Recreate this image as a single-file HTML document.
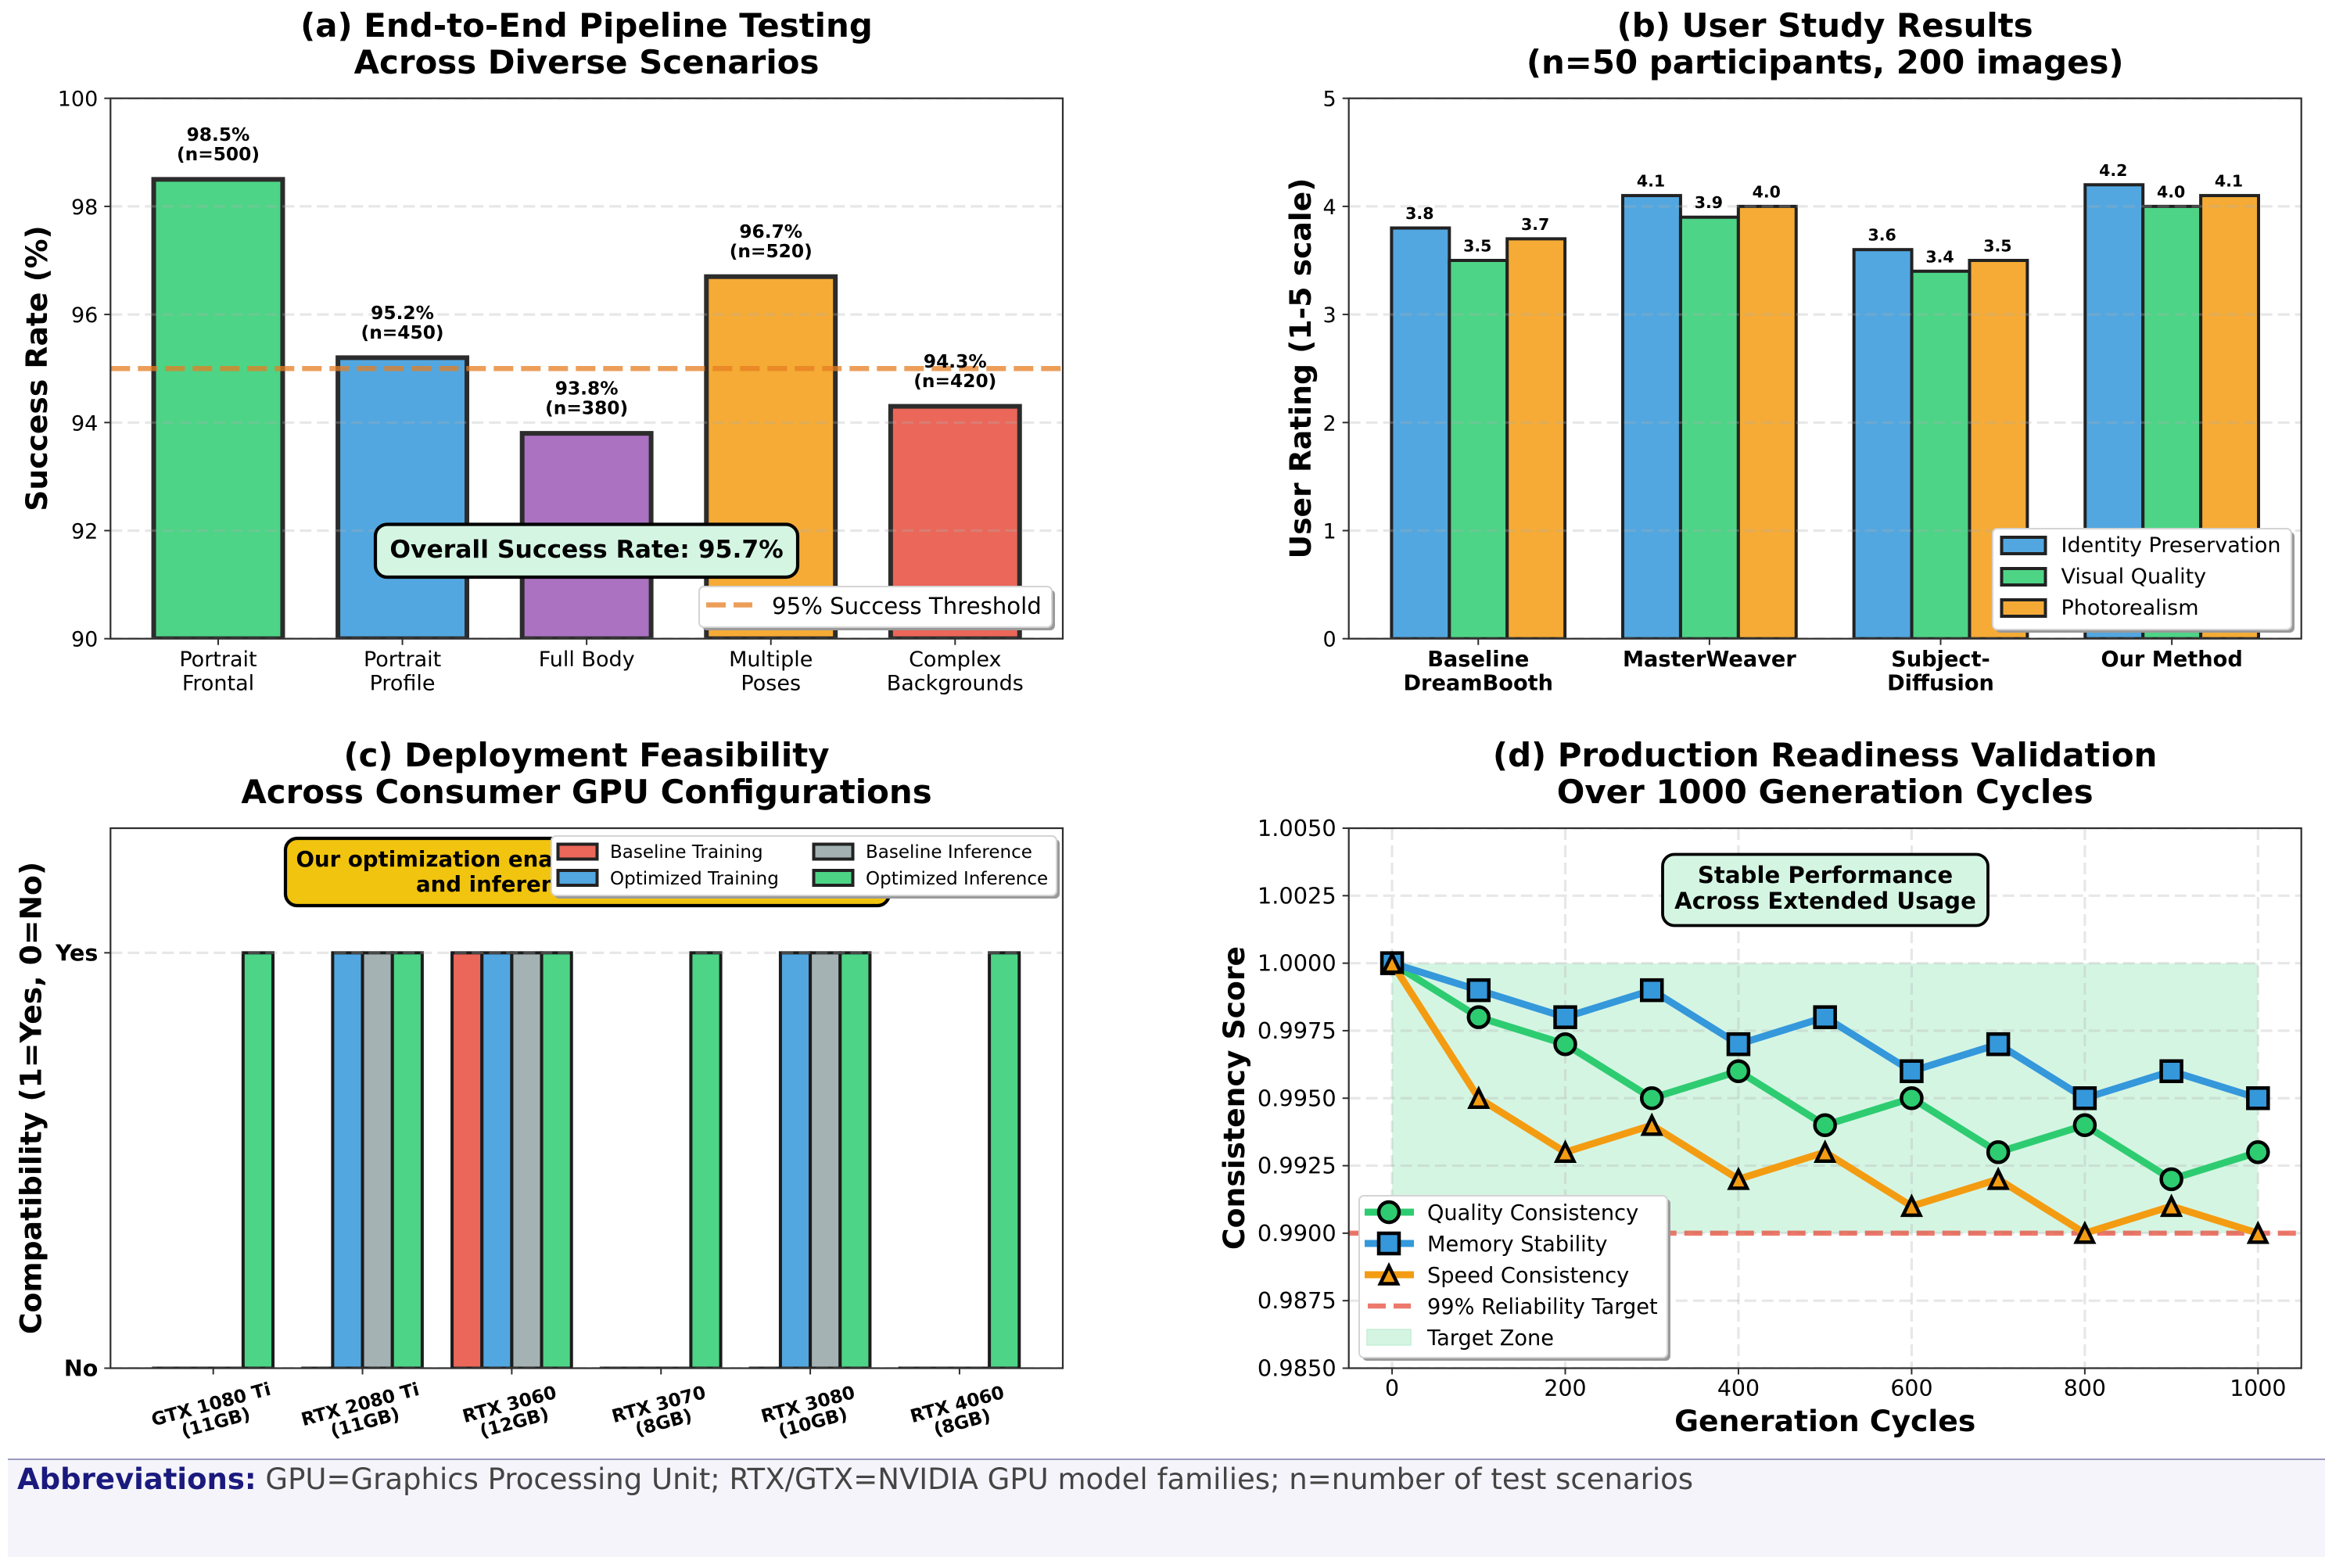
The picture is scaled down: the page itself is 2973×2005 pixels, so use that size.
<!DOCTYPE html>
<html lang="en">
<head>
<meta charset="utf-8">
<title>Pipeline validation figure</title>
<style>
html,body{margin:0;padding:0;background:#fff;width:2973px;height:2005px;overflow:hidden}
svg{display:block;font-family:"DejaVu Sans","Liberation Sans",sans-serif}
.title{font-size:41.9px;font-weight:700;fill:#000;text-anchor:middle}
.ylab{font-size:37.7px;font-weight:700;fill:#000;text-anchor:middle}
.leg{font-size:27px;fill:#000}
</style>
</head>
<body>
<svg id="figure" xmlns="http://www.w3.org/2000/svg" width="2973" height="2005" viewBox="0 0 2973 2005">
  <defs>
    <clipPath id="clip-a"><rect x="141.3" y="125.7" width="1217.7" height="691"/></clipPath>
    <clipPath id="clip-b"><rect x="1724.7" y="125.7" width="1218" height="691"/></clipPath>
    <clipPath id="clip-c"><rect x="141.3" y="1059" width="1217.7" height="690.5"/></clipPath>
    <clipPath id="clip-d"><rect x="1724.7" y="1059" width="1218" height="690.5"/></clipPath>
  </defs>
  <rect x="0" y="0" width="2973" height="2005" fill="#fff"/>

  <!-- Panel A -->
  <g id="panel-a">
    <text class="title" x="750" y="47">(a) End-to-End Pipeline Testing</text>
    <text class="title" x="750" y="94">Across Diverse Scenarios</text>
    <g id="a-bars" clip-path="url(#clip-a)"></g>
    <g id="a-grid" clip-path="url(#clip-a)"></g>
    <g id="a-line" clip-path="url(#clip-a)"></g>
    <rect x="141.3" y="125.7" width="1217.7" height="691" fill="none" stroke="#2e2e2e" stroke-width="2.2"/>
    <g id="a-axes"></g>
    <g id="a-values"></g>
    <text class="ylab" transform="translate(60,471) rotate(-90)">Success Rate (%)</text>
    <g>
      <rect x="480" y="670.5" width="540" height="67.5" rx="15" fill="#d5f5e3" stroke="#000" stroke-width="4.2"/>
      <text x="750" y="713" font-size="31.4" font-weight="700" text-anchor="middle" fill="#000">Overall Success Rate: 95.7%</text>
    </g>
    <g>
      <rect x="898" y="754" width="451" height="52" rx="6" fill="#9a9a9a"/>
      <rect x="894" y="750" width="451" height="52" rx="6" fill="#fff" stroke="#d4d4d4" stroke-width="2"/>
      <line x1="903" y1="773.5" x2="962" y2="773.5" stroke="#e67e22" stroke-opacity=".75" stroke-width="6.5" stroke-dasharray="25 10"/>
      <text x="987" y="785" font-size="29.2" fill="#000">95% Success Threshold</text>
    </g>
  </g>

  <!-- Panel B -->
  <g id="panel-b">
    <text class="title" x="2333.7" y="47">(b) User Study Results</text>
    <text class="title" x="2333.7" y="94">(n=50 participants, 200 images)</text>
    <g id="b-bars" clip-path="url(#clip-b)"></g>
    <g id="b-grid" clip-path="url(#clip-b)"></g>
    <rect x="1724.7" y="125.7" width="1218" height="691" fill="none" stroke="#2e2e2e" stroke-width="2.2"/>
    <g id="b-axes"></g>
    <g id="b-values"></g>
    <text class="ylab" transform="translate(1676,471) rotate(-90)">User Rating (1-5 scale)</text>
    <g>
      <rect x="2552" y="680" width="382" height="129" rx="6" fill="#9a9a9a"/>
      <rect x="2548" y="676" width="382" height="129" rx="6" fill="#fff" stroke="#d4d4d4" stroke-width="2"/>
      <rect x="2559.5" y="687" width="56" height="21" fill="#52a7e0" stroke="#222" stroke-width="4"/>
      <rect x="2559.5" y="727" width="56" height="21" fill="#4dd585" stroke="#222" stroke-width="4"/>
      <rect x="2559.5" y="767" width="56" height="21" fill="#f5aa36" stroke="#222" stroke-width="4"/>
      <text class="leg" x="2635.5" y="706">Identity Preservation</text>
      <text class="leg" x="2635.5" y="746">Visual Quality</text>
      <text class="leg" x="2635.5" y="786">Photorealism</text>
    </g>
  </g>

  <!-- Panel C -->
  <g id="panel-c">
    <text class="title" x="750" y="980">(c) Deployment Feasibility</text>
    <text class="title" x="750" y="1027">Across Consumer GPU Configurations</text>
    <g id="c-bars" clip-path="url(#clip-c)"></g>
    <g id="c-grid" clip-path="url(#clip-c)"></g>
    <rect x="141.3" y="1059" width="1217.7" height="690.5" fill="none" stroke="#2e2e2e" stroke-width="2.2"/>
    <g id="c-axes"></g>
    <text class="ylab" transform="translate(52.5,1404) rotate(-90)">Compatibility (1=Yes, 0=No)</text>
    <g>
      <rect x="365" y="1072" width="772" height="86" rx="15" fill="#f1c40f" stroke="#000" stroke-width="4.2"/>
      <text x="378.5" y="1108" font-size="27.6" font-weight="700" fill="#000">Our optimization enables</text>
      <text x="532" y="1140" font-size="27.6" font-weight="700" fill="#000">and inference</text>
    </g>
    <g>
      <rect x="709" y="1073" width="646" height="76" rx="6" fill="#9a9a9a"/>
      <rect x="705" y="1069" width="646" height="76" rx="6" fill="#fff" stroke="#d4d4d4" stroke-width="2"/>
      <rect x="713.5" y="1079.5" width="50" height="19" fill="#eb675a" stroke="#222" stroke-width="4"/>
      <rect x="713.5" y="1113" width="50" height="19" fill="#52a7e0" stroke="#222" stroke-width="4"/>
      <rect x="1040.5" y="1079.5" width="50" height="19" fill="#a3b1b2" stroke="#222" stroke-width="4"/>
      <rect x="1040.5" y="1113" width="50" height="19" fill="#4dd585" stroke="#222" stroke-width="4"/>
      <text x="780" y="1097" font-size="23" fill="#000">Baseline Training</text>
      <text x="780" y="1131" font-size="23" fill="#000">Optimized Training</text>
      <text x="1107" y="1097" font-size="23" fill="#000">Baseline Inference</text>
      <text x="1107" y="1131" font-size="23" fill="#000">Optimized Inference</text>
    </g>
  </g>

  <!-- Panel D -->
  <g id="panel-d">
    <text class="title" x="2333.7" y="980">(d) Production Readiness Validation</text>
    <text class="title" x="2333.7" y="1027">Over 1000 Generation Cycles</text>
    <g id="d-zone" clip-path="url(#clip-d)"></g>
    <g id="d-grid" clip-path="url(#clip-d)"></g>
    <g id="d-target" clip-path="url(#clip-d)"></g>
    <g id="d-series" clip-path="url(#clip-d)"></g>
    <rect x="1724.7" y="1059" width="1218" height="690.5" fill="none" stroke="#2e2e2e" stroke-width="2.2"/>
    <g id="d-axes"></g>
    <text class="ylab" transform="translate(1591,1404) rotate(-90)">Consistency Score</text>
    <text class="ylab" x="2333.7" y="1830">Generation Cycles</text>
    <g>
      <rect x="2126" y="1092.5" width="416" height="91" rx="15" fill="#d5f5e3" stroke="#000" stroke-width="3.8"/>
      <text x="2334" y="1129" font-size="29.2" font-weight="700" text-anchor="middle" fill="#000">Stable Performance</text>
      <text x="2334" y="1162" font-size="29.2" font-weight="700" text-anchor="middle" fill="#000">Across Extended Usage</text>
    </g>
    <g>
      <rect x="1742" y="1533" width="394" height="207" rx="6" fill="#9a9a9a"/>
      <rect x="1738" y="1529" width="394" height="207" rx="6" fill="#fff" stroke="#d4d4d4" stroke-width="2"/>
      <line x1="1745" y1="1550" x2="1808" y2="1550" stroke="#2ecc71" stroke-width="9"/>
      <circle cx="1776" cy="1550" r="13" fill="#2ecc71" stroke="#000" stroke-width="4.5"/>
      <line x1="1745" y1="1590" x2="1808" y2="1590" stroke="#3498db" stroke-width="9"/>
      <rect x="1763" y="1577" width="26" height="26" fill="#3498db" stroke="#000" stroke-width="4.5"/>
      <line x1="1745" y1="1630" x2="1808" y2="1630" stroke="#f39c12" stroke-width="9"/>
      <polygon points="1776,1619 1765,1641.5 1787,1641.5" fill="#f39c12" stroke="#000" stroke-width="4.5"/>
      <line x1="1749" y1="1670" x2="1804" y2="1670" stroke="#e74c3c" stroke-opacity=".75" stroke-width="6.5" stroke-dasharray="23 10"/>
      <rect x="1748" y="1700" width="56" height="20" fill="#d5f5e3" stroke="#c4eed6" stroke-width="1.5"/>
      <text x="1825" y="1560" font-size="27.2" fill="#000">Quality Consistency</text>
      <text x="1825" y="1600" font-size="27.2" fill="#000">Memory Stability</text>
      <text x="1825" y="1640" font-size="27.2" fill="#000">Speed Consistency</text>
      <text x="1825" y="1680" font-size="27.2" fill="#000">99% Reliability Target</text>
      <text x="1825" y="1720" font-size="27.2" fill="#000">Target Zone</text>
    </g>
  </g>

  <!-- Footer -->
  <g>
    <rect x="10" y="1866" width="2963" height="125" fill="#f4f4fa"/>
    <rect x="10" y="1865" width="2963" height="2" fill="#9a9abf"/>
    <text x="22" y="1904" font-size="37" fill="#444"><tspan font-weight="700" fill="#1a1a7e">Abbreviations:</tspan> GPU=Graphics Processing Unit; RTX/GTX=NVIDIA GPU model families; n=number of test scenarios</text>
  </g>
</svg>

<script>
// ---------- Panel A data ----------
const scenarioNames = [["Portrait","Frontal"],["Portrait","Profile"],["Full Body"],["Multiple","Poses"],["Complex","Backgrounds"]];
const successRates = [98.5, 95.2, 93.8, 96.7, 94.3];
const sampleCounts = [500, 450, 380, 520, 420];
const successColors = ["#2ecc71","#3498db","#9b59b6","#f39c12","#e74c3c"];
const successTicks = [90, 92, 94, 96, 98, 100];
const successThreshold = [95];

// ---------- Panel B data ----------
const methodNames = [["Baseline","DreamBooth"],["MasterWeaver"],["Subject-","Diffusion"],["Our Method"]];
const identityRatings = [3.8, 4.1, 3.6, 4.2];
const visualRatings = [3.5, 3.9, 3.4, 4.0];
const photoRatings = [3.7, 4.0, 3.5, 4.1];
const ratingTicks = [0, 1, 2, 3, 4, 5];

// ---------- Panel C data ----------
const gpuNames = [["GTX 1080 Ti","(11GB)"],["RTX 2080 Ti","(11GB)"],["RTX 3060","(12GB)"],["RTX 3070","(8GB)"],["RTX 3080","(10GB)"],["RTX 4060","(8GB)"]];
const baselineTraining = [0, 0, 1, 0, 0, 0];
const optimizedTraining = [0, 1, 1, 0, 1, 0];
const baselineInference = [0, 1, 1, 0, 1, 0];
const optimizedInference = [1, 1, 1, 1, 1, 1];
const compatTicks = [0, 1];
const compatTickNames = ["No", "Yes"];

// ---------- Panel D data ----------
const cycles = [0, 100, 200, 300, 400, 500, 600, 700, 800, 900, 1000];
const qualityScores = [1.0, 0.998, 0.997, 0.995, 0.996, 0.994, 0.995, 0.993, 0.994, 0.992, 0.993];
const memoryScores = [1.0, 0.999, 0.998, 0.999, 0.997, 0.998, 0.996, 0.997, 0.995, 0.996, 0.995];
const speedScores = [1.0, 0.995, 0.993, 0.994, 0.992, 0.993, 0.991, 0.992, 0.990, 0.991, 0.990];
const cycleTicks = [0, 200, 400, 600, 800, 1000];
const scoreTicks = [0.985, 0.9875, 0.99, 0.9925, 0.995, 0.9975, 1.0, 1.0025, 1.005];
const reliabilityTarget = [0.99];
const targetZoneTop = [1.0];

// ---------- helpers ----------
const NS = "http://www.w3.org/2000/svg";
function mk(tag, parentId, props) {
  const node = document.createElementNS(NS, tag);
  for (const k in props) node.setAttribute(k, props[k]);
  document.getElementById(parentId).appendChild(node);
  return node;
}
function scale(d0, d1, r0, r1) {
  return function (v) { return r0 + (v - d0) * (r1 - r0) / (d1 - d0); };
}
const LEFT_A = 141.3, RIGHT_A = 1359, TOP_R1 = 125.7, BOT_R1 = 816.7;
const LEFT_B = 1724.7, RIGHT_B = 2942.7, TOP_R2 = 1059, BOT_R2 = 1749.5;

const xA = scale(-0.5845, 4.5845, LEFT_A, RIGHT_A);
const yA = scale(90, 100, BOT_R1, TOP_R1);
const xB = scale(-0.56, 3.56, LEFT_B, RIGHT_B);
const yB = scale(0, 5, BOT_R1, TOP_R1);
const xC = scale(-0.6885, 5.692, LEFT_A, RIGHT_A);
const yC = scale(0, 1.3, BOT_R2, TOP_R2);
const xD = scale(-50, 1050, LEFT_B, RIGHT_B);
const yD = scale(0.985, 1.005, BOT_R2, TOP_R2);

function hGrid(layer, yPos, x0, x1) {
  const g = mk("line", layer, {x1:x0, x2:x1, y1:yPos, y2:yPos, stroke:"#b0b0b0", "stroke-opacity":".3", "stroke-width":3.2, "stroke-dasharray":"15 7"});
  
  
}
function vGrid(layer, xPos, y0, y1) {
  const g = mk("line", layer, {x1:xPos, x2:xPos, y1:y0, y2:y1, stroke:"#b0b0b0", "stroke-opacity":".3", "stroke-width":3.2, "stroke-dasharray":"15 7"});
  
  
}
function yTick(layer, axisX, yPos, label, bold, size) {
  const t = mk("line", layer, {x1:axisX-8, x2:axisX, y1:yPos, y2:yPos, stroke:"#2e2e2e", "stroke-width":2});
  
  
  const s = mk("text", layer, {x:axisX-16, y:yPos+10, "font-size":size, "text-anchor":"end", fill:"#000", "font-weight":bold?700:400});
  s.textContent = label;
  
  
}
function xTick(layer, xPos, axisY) {
  const t = mk("line", layer, {x1:xPos, x2:xPos, y1:axisY, y2:axisY+8, stroke:"#2e2e2e", "stroke-width":2});
  
  
}
function xLabelLines(layer, xPos, lines, bold) {
  lines.forEach(function (line, n) {
    const s = mk("text", layer, {x:xPos, y:852 + n*30.5, "font-size":bold?27.2:27, "text-anchor":"middle", fill:"#000", "font-weight":bold?700:400});
    s.textContent = line;
    
    
  });
}

// ---------- Panel A ----------
successTicks.forEach(function (v) {
  hGrid("a-grid", yA(v), LEFT_A, RIGHT_A);
  yTick("a-axes", LEFT_A, yA(v), String(v), false, 27);
});
successRates.forEach(function (v, i) {
  const hw = 0.35, x0 = xA(i - hw), x1 = xA(i + hw), top = yA(v);
  const bar = mk("rect", "a-bars", {x:x0, y:top, width:x1-x0, height:yA(90)-top, fill:successColors[i], "fill-opacity":".85", stroke:"#2c2c2c", "stroke-width":6});
  
  
  const l1 = mk("text", "a-values", {x:xA(i), y:top-49.5, "font-size":23.3, "font-weight":700, "text-anchor":"middle", fill:"#000"});
  l1.textContent = v.toFixed(1) + "%";
  
  
  const l2 = mk("text", "a-values", {x:xA(i), y:top-24.5, "font-size":23.3, "font-weight":700, "text-anchor":"middle", fill:"#000"});
  l2.textContent = "(n=" + sampleCounts[i] + ")";
  
  
  xTick("a-axes", xA(i), BOT_R1);
  xLabelLines("a-axes", xA(i), scenarioNames[i], false);
});
const thresholdLine = mk("line", "a-line", {x1:LEFT_A, x2:RIGHT_A, y1:yA(successThreshold[0]), y2:yA(successThreshold[0]), stroke:"#e67e22", "stroke-opacity":".75", "stroke-width":6.5, "stroke-dasharray":"25 10"});



// ---------- Panel B ----------
const ratingSeries = [identityRatings, visualRatings, photoRatings];
const ratingColors = ["#3498db", "#2ecc71", "#f39c12"];
ratingTicks.forEach(function (v) {
  hGrid("b-grid", yB(v), LEFT_B, RIGHT_B);
  yTick("b-axes", LEFT_B, yB(v), String(v), false, 27);
});
methodNames.forEach(function (name, i) {
  xTick("b-axes", xB(i), BOT_R1);
  xLabelLines("b-axes", xB(i), name, true);
  ratingSeries.forEach(function (series, s) {
    const w = 0.25, x0 = xB(i + (s - 1.5) * w), x1 = xB(i + (s - 0.5) * w), top = yB(series[i]);
    const bar = mk("rect", "b-bars", {x:x0, y:top, width:x1-x0, height:yB(0)-top, fill:ratingColors[s], "fill-opacity":".85", stroke:"#222", "stroke-width":4});
    
    
    const lab = mk("text", "b-values", {x:(x0+x1)/2 - 1, y:top-11.5, "font-size":20.5, "font-weight":700, "text-anchor":"middle", fill:"#000"});
    lab.textContent = series[i].toFixed(1);
    
    
  });
});

// ---------- Panel C ----------
const compatSeries = [baselineTraining, optimizedTraining, baselineInference, optimizedInference];
const compatColors = ["#e74c3c", "#3498db", "#95a5a6", "#2ecc71"];
compatTicks.forEach(function (v, n) {
  hGrid("c-grid", yC(v), LEFT_A, RIGHT_A);
  yTick("c-axes", LEFT_A, yC(v), compatTickNames[n], true, 28.5);
});
gpuNames.forEach(function (name, i) {
  xTick("c-axes", xC(i), BOT_R2);
  const cx = xC(i), cy = 1806.7;
  name.forEach(function (line, n) {
    const s = mk("text", "c-axes", {x:cx, y:cy + (n === 0 ? -3.5 : 20.5), "font-size":23.2, "font-weight":700, "text-anchor":"middle", fill:"#000", transform:"rotate(-15 " + cx + " " + cy + ")"});
    s.textContent = line;
    
    
  });
  compatSeries.forEach(function (series, s) {
    const w = 0.2, x0 = xC(i + (s - 2) * w), x1 = xC(i + (s - 1) * w), top = yC(series[i]);
    const bar = mk("rect", "c-bars", {x:x0, y:top, width:x1-x0, height:Math.max(yC(0)-top, 0.01), fill:compatColors[s], "fill-opacity":".85", stroke:"#1c1c1c", "stroke-width":4});
    
    
  });
});

// ---------- Panel D ----------
const zone = mk("rect", "d-zone", {x:xD(cycles[0]), y:yD(targetZoneTop[0]), width:xD(cycles[cycles.length-1])-xD(cycles[0]), height:yD(reliabilityTarget[0])-yD(targetZoneTop[0]), fill:"#2ecc71", "fill-opacity":".2"});


scoreTicks.forEach(function (v) {
  hGrid("d-grid", yD(v), LEFT_B, RIGHT_B);
  yTick("d-axes", LEFT_B, yD(v), v.toFixed(4), false, 28.8);
});
cycleTicks.forEach(function (v) {
  vGrid("d-grid", xD(v), TOP_R2, BOT_R2);
  xTick("d-axes", xD(v), BOT_R2);
  const s = mk("text", "d-axes", {x:xD(v), y:1785, "font-size":28.4, "text-anchor":"middle", fill:"#000"});
  s.textContent = String(v);
  
  
});
const targetLine = mk("line", "d-target", {x1:LEFT_B, x2:RIGHT_B, y1:yD(reliabilityTarget[0]), y2:yD(reliabilityTarget[0]), stroke:"#e74c3c", "stroke-opacity":".75", "stroke-width":6.5, "stroke-dasharray":"23 10"});



const scoreSeries = [qualityScores, memoryScores, speedScores];
const scoreColors = ["#2ecc71", "#3498db", "#f39c12"];
scoreSeries.forEach(function (series, s) {
  const pts = series.map(function (v, i) { return xD(cycles[i]) + "," + yD(v); }).join(" ");
  const path = mk("polyline", "d-series", {points:pts, fill:"none", stroke:scoreColors[s], "stroke-width":9, "stroke-linejoin":"round", "stroke-linecap":"round"});
  
  
  series.forEach(function (v, i) {
    const px = xD(cycles[i]), py = yD(v);
    let m;
    if (s === 0) {
      m = mk("circle", "d-series", {cx:px, cy:py, r:13, fill:scoreColors[s], stroke:"#000", "stroke-width":4.5});
    } else if (s === 1) {
      m = mk("rect", "d-series", {x:px-13, y:py-13, width:26, height:26, fill:scoreColors[s], stroke:"#000", "stroke-width":4.5});
    } else {
      m = mk("polygon", "d-series", {points:px + "," + (py-11) + " " + (px-11) + "," + (py+11.5) + " " + (px+11) + "," + (py+11.5), fill:scoreColors[s], stroke:"#000", "stroke-width":4.5});
    }
    
    
  });
});
</script>
</body>
</html>
